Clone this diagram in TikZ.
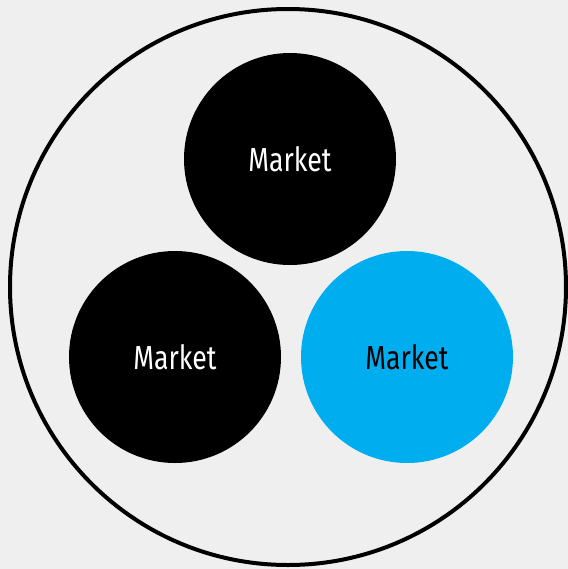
\documentclass[tikz,border=0pt]{standalone}
\usepackage{fontspec}
\setmainfont{Fira Sans}[FakeStretch=0.8]
\usetikzlibrary{positioning}
\definecolor{paper}{RGB}{239,239,239}
\definecolor{marketblue}{RGB}{0,174,239}
\tikzset{
        marketnode/.style={circle, inner sep=0pt, minimum size=159pt, font=\fontsize{25}{30}\selectfont},
        % Black markets
        market_black/.style={marketnode, fill=black, text=white},
        % Highlighted market
        market_blue/.style={marketnode, fill=marketblue, text=black},
        % Outer ring
        ring/.style={circle, draw=black, line width=3pt, minimum size=417pt, inner sep=0pt}
}
\begin{document}
\begin{tikzpicture}[x=0.75pt, y=-0.75pt]
    \fill[paper] (0,0) rectangle (568,569);
    \useasboundingbox (0,0) rectangle (568,569);
    \node[ring] (whole) at (288,287) {};
    \node[market_black] (top) at (290,159) {Market};
    \node[market_black] (left) at (175,357) {Market};
    \node[market_blue] (right) at (407,357) {Market};
\end{tikzpicture}
\end{document}
